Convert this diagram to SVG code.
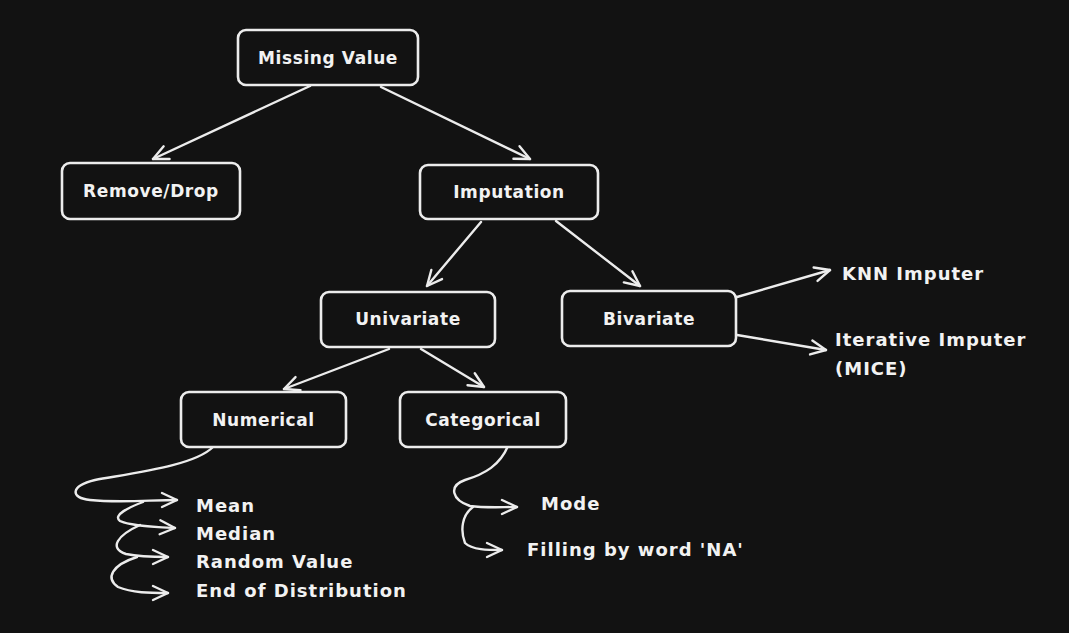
<svg xmlns="http://www.w3.org/2000/svg" width="1069" height="633" viewBox="0 0 1069 633">
<defs>
<style>
.box{fill:#121212;stroke:#ececec;stroke-width:2.6}
.t{font-family:"DejaVu Sans","Liberation Sans",sans-serif;font-weight:bold;font-size:17px;letter-spacing:0.6px;fill:#f2f2f2}
.c{fill:none;stroke:#ececec;stroke-width:2.4;stroke-linecap:round;stroke-linejoin:round}
.l{font-family:"DejaVu Sans","Liberation Sans",sans-serif;font-weight:bold;font-size:18px;letter-spacing:1px;fill:#f2f2f2}
</style>
<marker id="ah" viewBox="0 0 20 20" refX="18" refY="10" markerWidth="20" markerHeight="20" markerUnits="userSpaceOnUse" orient="auto">
<path d="M3,3 L18,10 L3,17" fill="none" stroke="#ececec" stroke-width="2.4" stroke-linecap="round" stroke-linejoin="round"/>
</marker>
</defs>
<rect width="1069" height="633" fill="#121212"/>
<g id="connectors">
<path class="c" d="M310,86 L153,159" marker-end="url(#ah)"/>
<path class="c" d="M381,87 L530,159" marker-end="url(#ah)"/>
<path class="c" d="M481,222 L427,286" marker-end="url(#ah)"/>
<path class="c" d="M556,221 L640,286" marker-end="url(#ah)"/>
<path class="c" d="M389,349 L284,389" marker-end="url(#ah)"/>
<path class="c" d="M421,349 L484,387" marker-end="url(#ah)"/>
<path class="c" d="M737,297 L830,270" marker-end="url(#ah)"/>
<path class="c" d="M737,335 L826,350" marker-end="url(#ah)"/>
<path class="c" d="M213,447 C195,465 140,472 95,480 C70,486 70,498 90,500 C120,503 150,500 177,500" marker-end="url(#ah)"/>
<path class="c" d="M143,502 C130,507 112,515 120,521 C130,526 155,527 175,528" marker-end="url(#ah)"/>
<path class="c" d="M140,525 C118,535 108,548 126,554 C140,557 155,557 168,557" marker-end="url(#ah)"/>
<path class="c" d="M137,557 C112,565 105,578 118,587 C132,593 150,593 168,593" marker-end="url(#ah)"/>
<path class="c" d="M508,446 C500,465 485,474 465,480 C448,486 452,500 470,506 C485,508 500,507 517,507" marker-end="url(#ah)"/>
<path class="c" d="M473,507 C462,515 460,530 465,543 C472,550 488,550 502,550" marker-end="url(#ah)"/>
</g>
<g id="n-missing"><rect class="box" x="238" y="30" width="180" height="55" rx="8"/><text class="t" x="328" y="63.5" text-anchor="middle">Missing Value</text></g>
<g id="n-remove"><rect class="box" x="62" y="163" width="178" height="56" rx="8"/><text class="t" x="151" y="197" text-anchor="middle">Remove/Drop</text></g>
<g id="n-imputation"><rect class="box" x="420" y="165" width="178" height="54" rx="8"/><text class="t" x="509" y="198" text-anchor="middle">Imputation</text></g>
<g id="n-univariate"><rect class="box" x="321" y="292" width="174" height="55" rx="8"/><text class="t" x="408" y="325" text-anchor="middle">Univariate</text></g>
<g id="n-bivariate"><rect class="box" x="562" y="291" width="174" height="55" rx="8"/><text class="t" x="649" y="325" text-anchor="middle">Bivariate</text></g>
<g id="n-numerical"><rect class="box" x="181" y="392" width="165" height="55" rx="8"/><text class="t" x="263.5" y="426" text-anchor="middle">Numerical</text></g>
<g id="n-categorical"><rect class="box" x="400" y="392" width="166" height="55" rx="8"/><text class="t" x="483" y="426" text-anchor="middle">Categorical</text></g>
<g id="n-knn"><text class="l" x="842" y="280">KNN Imputer</text></g>
<g id="n-iter"><text class="l" x="835" y="346">Iterative Imputer</text><text class="l" x="835" y="375">(MICE)</text></g>
<g id="n-mean"><text class="l" x="196" y="512">Mean</text></g>
<g id="n-median"><text class="l" x="196" y="540">Median</text></g>
<g id="n-random"><text class="l" x="196" y="568">Random Value</text></g>
<g id="n-eod"><text class="l" x="196" y="597">End of Distribution</text></g>
<g id="n-mode"><text class="l" x="541" y="510">Mode</text></g>
<g id="n-na"><text class="l" x="527" y="556">Filling by word 'NA'</text></g>
</svg>
